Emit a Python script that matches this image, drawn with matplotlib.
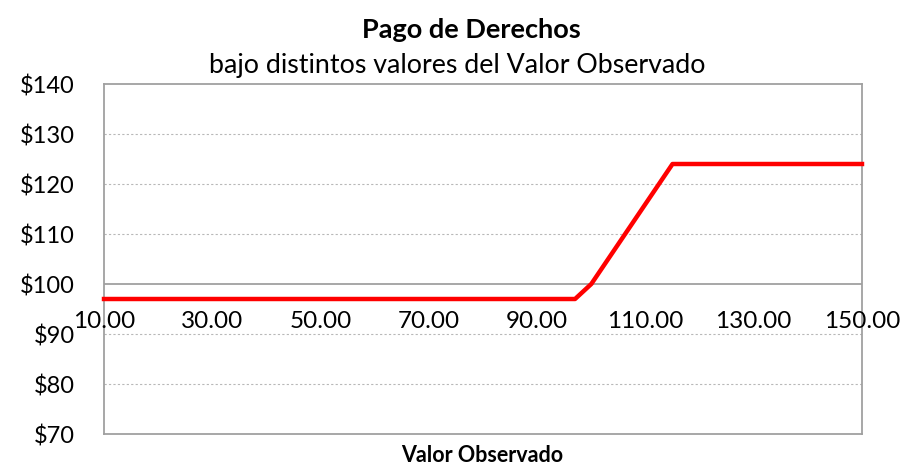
import matplotlib
matplotlib.use("Agg")
import matplotlib.pyplot as plt
from matplotlib.ticker import FuncFormatter

plt.rcParams['font.family'] = ['Lato', 'DejaVu Sans']

valor_observado = [10, 97, 100, 105, 110, 115, 150]
pago_derechos = [97, 97, 100, 108, 116, 124, 124]
x_ticks = [10, 30, 50, 70, 90, 110, 130, 150]
y_ticks = [70, 80, 90, 100, 110, 120, 130, 140]

fig = plt.figure(figsize=(9.03, 4.66), dpi=100)
ax = fig.add_axes([104/903, 1-434/466, (862-104)/903, (434-84)/466])

ax.set_xlim(10, 150)
ax.set_ylim(70, 140)
ax.set_yticks(y_ticks)
ax.set_xticks(x_ticks)

for v in y_ticks:
    if v in (70, 140, 100):
        continue
    ax.axhline(v, color='#b8b8b8', lw=0.8, ls=(0, (2, 2)), zorder=1)
ax.axhline(100, color='#a0a0a0', lw=1.3, zorder=2)

ax.plot(valor_observado, pago_derechos, color='#ff0000', lw=3.2, zorder=3,
        solid_joinstyle='round', clip_on=False)

for s in ax.spines.values():
    s.set_color('#a0a0a0')
    s.set_linewidth(1.3)

ax.yaxis.set_major_formatter(FuncFormatter(lambda v, p: f"${v:.0f}"))
ax.tick_params(axis='y', length=0, labelsize=17, pad=21)
ax.tick_params(axis='x', length=0, labelbottom=False)

for xv in x_ticks:
    ax.text(xv, 92.4, f"{xv:.2f}", ha='center', va='center', fontsize=17.5)

fig.text(482/903, 1-455/466, 'Valor Observado', ha='center', va='center',
         fontsize=15.5, fontweight='bold')

fig.text(471/903, 1-30/466, 'Pago de Derechos', ha='center', va='center',
         fontsize=19.5, fontweight='bold')
fig.text(457/903, 1-66/466, 'bajo distintos valores del Valor Observado', ha='center',
         va='center', fontsize=19.3)

fig.savefig('out.png', dpi=100)
